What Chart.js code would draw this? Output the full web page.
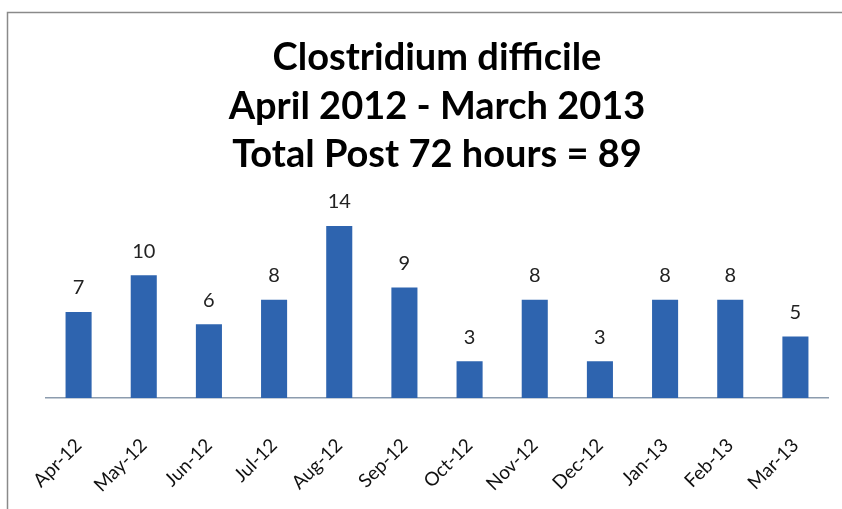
<!DOCTYPE html>
<html>
<head>
<meta charset="utf-8">
<script src="https://cdn.jsdelivr.net/npm/chart.js@4/dist/chart.umd.min.js"></script>
<style>
  html, body { margin: 0; padding: 0; background: #fff; }
  #wrap { position: relative; width: 842px; height: 509px; }
</style>
</head>
<body>
<div id="wrap"><canvas id="c" width="842" height="509"></canvas></div>
<script>
const categories = ["Apr-12","May-12","Jun-12","Jul-12","Aug-12","Sep-12","Oct-12","Nov-12","Dec-12","Jan-13","Feb-13","Mar-13"];
const cases = [7, 10, 6, 8, 14, 9, 3, 8, 3, 8, 8, 5];
const titleLines = ["Clostridium difficile", "April 2012 - March 2013", "Total Post 72 hours = 89"];

const FONT = "Lato, 'Open Sans', sans-serif";

const frame = {
  id: 'frame',
  beforeDraw(chart) {
    const ctx = chart.ctx;
    ctx.save();
    ctx.fillStyle = '#fff';
    ctx.fillRect(0, 0, chart.width, chart.height);
    ctx.strokeStyle = '#8a8a8a';
    ctx.lineWidth = 1.5;
    ctx.beginPath();
    ctx.moveTo(7.5, chart.height);
    ctx.lineTo(7.5, 12.5);
    ctx.lineTo(chart.width, 12.5);
    ctx.stroke();
    ctx.restore();
  }
};

const valueLabels = {
  id: 'valueLabels',
  afterDatasetsDraw(chart) {
    const ctx = chart.ctx;
    const meta = chart.getDatasetMeta(0);
    ctx.save();
    ctx.font = "20px " + FONT;
    ctx.fillStyle = '#222';
    ctx.textAlign = 'center';
    ctx.textBaseline = 'bottom';
    meta.data.forEach((bar, i) => {
      ctx.fillText(String(chart.data.datasets[0].data[i]), bar.x, bar.y - 14);
    });
    ctx.restore();
  }
};

new Chart(document.getElementById('c'), {
  type: 'bar',
  data: {
    labels: categories,
    datasets: [{
      data: cases,
      backgroundColor: '#2e64af',
      borderWidth: 0,
      categoryPercentage: 1.0,
      barPercentage: 0.4
    }]
  },
  options: {
    responsive: false,
    animation: false,
    layout: { padding: { left: 46, right: 14, top: 22, bottom: 0 } },
    plugins: {
      legend: { display: false },
      tooltip: { enabled: false },
      title: {
        display: true,
        text: titleLines,
        color: '#000',
        font: { family: FONT, size: 38, weight: 'bold', lineHeight: 1.276 },
        padding: { top: 12, bottom: 22 }
      }
    },
    scales: {
      x: {
        grid: { display: false, drawTicks: false },
        border: { display: true, color: '#8c9cae', width: 1.5 },
        ticks: {
          color: '#111',
          font: { family: FONT, size: 19 },
          minRotation: 45,
          maxRotation: 45,
          padding: 36,
          autoSkip: false
        },
        afterFit(scale) {
          scale.height = 111;
          scale.paddingLeft = 0;
          scale.paddingRight = 0;
        }
      },
      y: {
        display: false,
        min: 0,
        max: 16
      }
    }
  },
  plugins: [frame, valueLabels]
});
</script>
</body>
</html>
